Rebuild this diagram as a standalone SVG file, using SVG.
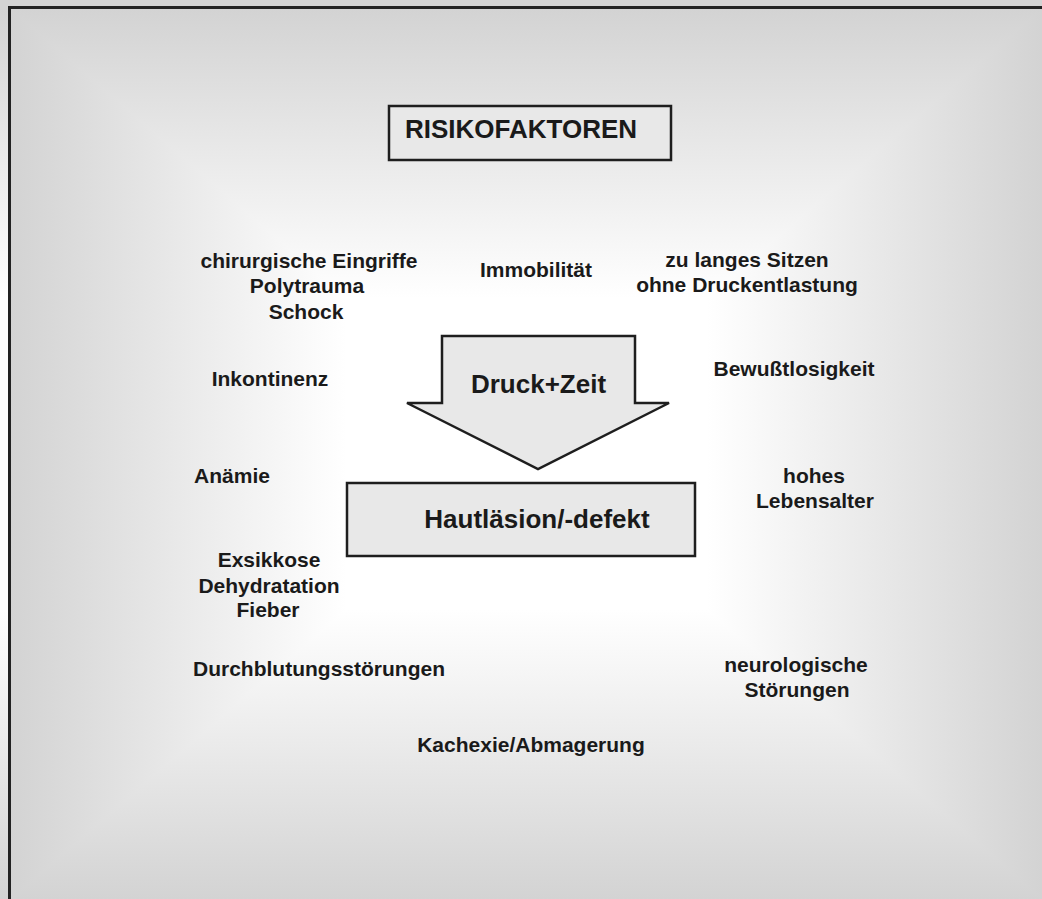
<svg xmlns="http://www.w3.org/2000/svg" width="1042" height="899" viewBox="0 0 1042 899">
<defs>
<linearGradient id="gT" gradientUnits="userSpaceOnUse" x1="0" y1="9" x2="0" y2="454"><stop offset="0" stop-color="#d3d3d3"/><stop offset="0.65" stop-color="#ffffff"/></linearGradient>
<linearGradient id="gB" gradientUnits="userSpaceOnUse" x1="0" y1="899" x2="0" y2="454"><stop offset="0" stop-color="#d3d3d3"/><stop offset="0.65" stop-color="#ffffff"/></linearGradient>
<linearGradient id="gL" gradientUnits="userSpaceOnUse" x1="11" y1="0" x2="527" y2="0"><stop offset="0" stop-color="#d3d3d3"/><stop offset="0.65" stop-color="#ffffff"/></linearGradient>
<linearGradient id="gR" gradientUnits="userSpaceOnUse" x1="1042" y1="0" x2="527" y2="0"><stop offset="0" stop-color="#d3d3d3"/><stop offset="0.65" stop-color="#ffffff"/></linearGradient>
</defs>
<style>
.lbl{font-family:"Liberation Sans",Arial,sans-serif;font-weight:bold;font-size:21px;fill:#1a1a1a;text-anchor:middle}
.big{font-family:"Liberation Sans",Arial,sans-serif;font-weight:bold;font-size:26px;fill:#1a1a1a}
.shape{fill:#e8e8e8;stroke:#1e1e1e;stroke-width:2.5}
</style>
<rect x="0" y="0" width="1042" height="899" fill="#ffffff"/>
<g id="background">
<rect x="0" y="0" width="1042" height="455" fill="url(#gT)"/>
<rect x="0" y="454" width="1042" height="445" fill="url(#gB)"/>
<polygon points="11,9 11,899 527,454" fill="url(#gL)"/>
<polygon points="1042,9 1042,899 527,454" fill="url(#gR)"/>
<rect x="9.5" y="7.5" width="1100" height="1000" fill="none" stroke="#222" stroke-width="3"/>
</g>
<g id="connectors">
<g id="arrow">
<polygon class="shape" points="442,336 635,336 635,403 669,403 538,469 407,403 442,403"/>
<text class="big" x="538.5" y="393" text-anchor="middle">Druck+Zeit</text>
</g>
</g>
<g id="risikofaktoren">
<rect class="shape" x="389" y="106" width="282" height="54"/>
<text class="big" x="405" y="138">RISIKOFAKTOREN</text>
</g>
<g id="hautlaesion">
<rect class="shape" x="347" y="483" width="348" height="73"/>
<text class="big" x="537" y="528" text-anchor="middle">Hautläsion/-defekt</text>
</g>
<g id="chirurgie"><text class="lbl" x="309" y="268">chirurgische Eingriffe</text><text class="lbl" x="307" y="293">Polytrauma</text><text class="lbl" x="306" y="319">Schock</text></g>
<g id="immobilitaet"><text class="lbl" x="536" y="277">Immobilität</text></g>
<g id="sitzen"><text class="lbl" x="747" y="267">zu langes Sitzen</text><text class="lbl" x="747" y="292">ohne Druckentlastung</text></g>
<g id="inkontinenz"><text class="lbl" x="270" y="386">Inkontinenz</text></g>
<g id="bewusstlosigkeit"><text class="lbl" x="794" y="376">Bewußtlosigkeit</text></g>
<g id="anaemie"><text class="lbl" x="232" y="483">Anämie</text></g>
<g id="lebensalter"><text class="lbl" x="814" y="483">hohes</text><text class="lbl" x="815" y="508">Lebensalter</text></g>
<g id="exsikkose"><text class="lbl" x="269" y="567">Exsikkose</text><text class="lbl" x="269" y="593">Dehydratation</text><text class="lbl" x="268" y="617">Fieber</text></g>
<g id="durchblutung"><text class="lbl" x="319" y="676">Durchblutungsstörungen</text></g>
<g id="neurologisch"><text class="lbl" x="796" y="672">neurologische</text><text class="lbl" x="797" y="697">Störungen</text></g>
<g id="kachexie"><text class="lbl" x="531" y="752">Kachexie/Abmagerung</text></g>
</svg>
